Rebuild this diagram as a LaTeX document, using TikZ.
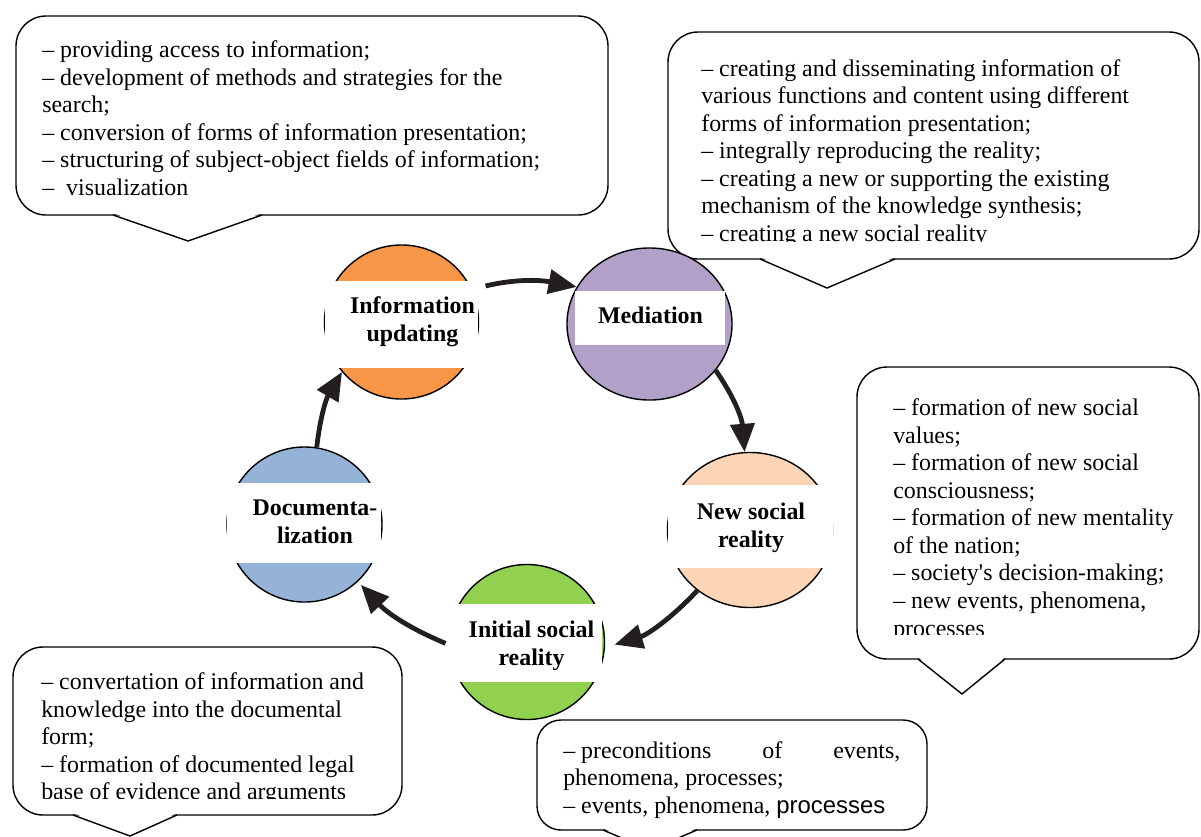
\documentclass[tikz,border=0pt]{standalone}
\usepackage{fontspec}
\setmainfont{Liberation Serif}
\newfontfamily\arialfont{Liberation Sans}
\usetikzlibrary{arrows.meta}
\usetikzlibrary{shapes.geometric}
\definecolor{updfill}{HTML}{F79646}
\definecolor{medfill}{HTML}{B1A0C7}
\definecolor{newfill}{HTML}{FBD5B5}
\definecolor{docfill}{HTML}{95B3D7}
\definecolor{inifill}{HTML}{92D050}
\definecolor{arrowcol}{HTML}{231F20}

\begin{document}
\begin{tikzpicture}[x=0.025cm, y=-0.025cm,
  stage/.style={ellipse, draw=black, line width=1pt, inner sep=0pt},
  band/.style={fill=white, inner sep=0pt},
  stagetext/.style={font=\fontsize{17}{19.6}\selectfont\bfseries, align=center, inner sep=0pt},
  note/.style={font=\fontsize{17}{19.6}\selectfont, align=left, anchor=north west, inner sep=0pt},
  bubble/.style={draw=black, line width=1pt, fill=white, rounded corners=0.75cm},
  tail/.style={draw=black, line width=1pt},
  flow/.style={draw=arrowcol, line width=3.4pt, -{Triangle[length=20pt,width=17pt]}}]
  \clip (0,0) rectangle (1201,836);

  %---------------- callouts ----------------
  \draw[bubble] (16,16) rectangle (608,215);
  \fill[white] (113,213) -- (188,241) -- (262,213) -- cycle;
  \draw[tail] (113,215) -- (188,241) -- (262,215);
  \node[note] (updN) at (42,38) {\strut– providing access to information;\\
    – development of methods and strategies for the\\
    search;\\
    – conversion of forms of information presentation;\\
    – structuring of subject-object fields of information;\\
    –~ visualization};

  \draw[bubble] (668,32) rectangle (1199,259);
  \fill[white] (760,257) -- (827,288) -- (895,257) -- cycle;
  \draw[tail] (760,259) -- (827,288) -- (895,259);
  \begin{scope}
    \clip (660,40) rectangle (1199,241);
    \node[note] (medN) at (701,56.5) {\strut– creating and disseminating information of\\
      various functions and content using different\\
      forms of information presentation;\\
      – integrally reproducing the reality;\\
      – creating a new or supporting the existing\\
      mechanism of the knowledge synthesis;\\
      – creating a new social reality};
  \end{scope}

  \draw[bubble] (857,367) rectangle (1199,659);
  \fill[white] (918,657) -- (962,694) -- (1005,657) -- cycle;
  \draw[tail] (918,659) -- (962,694) -- (1005,659);
  \begin{scope}
    \clip (850,375) rectangle (1199,634.5);
    \node[note] (newN) at (893,396) {\strut– formation of new social\\
      values;\\
      – formation of new social\\
      consciousness;\\
      – formation of new mentality\\
      of the nation;\\
      – society\textquotesingle s decision-making;\\
      – new events, phenomena,\\
      processes};
  \end{scope}

  \draw[bubble] (13,647) rectangle (402,815);
  \fill[white] (73,813) -- (130,836) -- (177,813) -- cycle;
  \draw[tail] (73,815) -- (130,836) -- (177,815);
  \begin{scope}
    \clip (10,655) rectangle (402,798);
    \node[note] (docN) at (41,670) {\strut– convertation of information and\\
      knowledge into the documental\\
      form;\\
      – formation of documented legal\\
      base of evidence and arguments};
  \end{scope}

  \draw[bubble, rounded corners=0.6cm] (537,720) rectangle (927,830);
  \fill[white] (603,828) -- (650,850) -- (697,828) -- cycle;
  \draw[tail] (603,830) -- (650,850) -- (697,830);
  \begin{scope}
    \clip (540,725) rectangle (927,818);
    \node[note] (iniN) at (563,738.5) {\strut\hbox to 8.425cm{– preconditions\hfill of\hfill events,}\\
      phenomena, processes;\\
      – events, phenomena, {\arialfont processes}};
  \end{scope}

  %---------------- stages ----------------
  \node[stage, fill=updfill, minimum width=3.85cm, minimum height=3.85cm] (upd) at (401.5,322) {};
  \node[band, minimum width=3.825cm, minimum height=2.175cm] (updB) at (401.5,324.5) {};
  \node[stagetext] (updL) at (412.5,321.8) {Information\\updating};

  \node[stage, fill=medfill, minimum width=4.125cm, minimum height=3.8cm] (med) at (649.5,324) {};
  \node[band, minimum width=3.75cm, minimum height=1.35cm] (medB) at (650,318) {};
  \node[stagetext] (medL) at (650.5,315.3) {Mediation};

  \node[stage, fill=newfill, minimum width=4.125cm, minimum height=3.875cm] (new) at (750,530) {};
  \node[band, minimum width=4.125cm, minimum height=2.075cm] (newB) at (750.5,526.5) {};
  \node[stagetext] (newL) at (751,528) {New social\\reality};

  \node[stage, fill=inifill, minimum width=3.875cm, minimum height=3.875cm] (ini) at (527,642) {};
  \node[band, minimum width=3.875cm, minimum height=1.95cm] (iniB) at (524.5,642.5) {};
  \node[stagetext] (iniL) at (531.5,645.8) {Initial social\\reality};

  \node[stage, fill=docfill, minimum width=3.875cm, minimum height=3.875cm] (doc) at (304.5,524.5) {};
  \node[band, minimum width=3.85cm, minimum height=2cm] (docB) at (304,523) {};
  \node[stagetext] (docL) at (315,521.8) {Documenta-\\lization};

  %---------------- cycle ----------------
  \draw[flow, shorten <=0.35cm] (upd.25) to[bend left=12] (med.153);
  \draw[flow] (med.-35) to[bend left=15] (new.94);
  \draw[flow, shorten >=0.25cm] (new.229) to[bend left=15] (ini.-4);
  \draw[flow, shorten <=0.09cm, shorten >=0.11cm] (ini.182) to[bend left=12] (doc.-47.5);
  \draw[flow] (doc.81.6) to[bend left=12] (upd.220);
\end{tikzpicture}
\end{document}
